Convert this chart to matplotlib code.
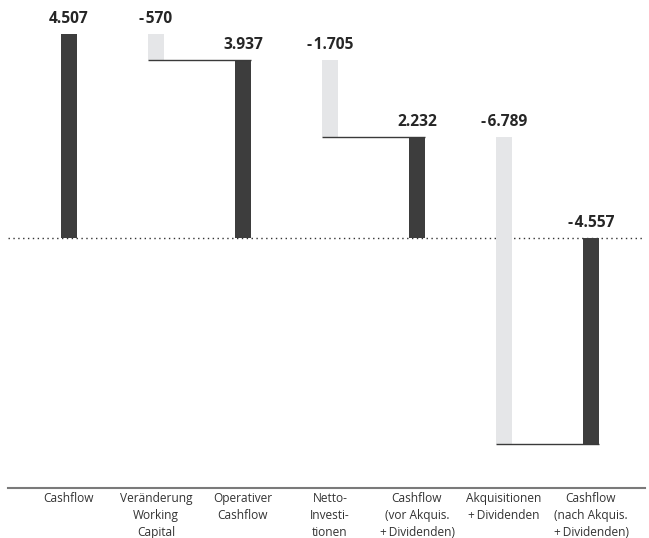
import numpy as np
import matplotlib.pyplot as plt

plt.rcParams['font.family'] = ['Open Sans', 'DejaVu Sans']

categories = ["Cashflow", "Veränderung\nWorking\nCapital", "Operativer\nCashflow",
              "Netto-\nInvesti-\ntionen", "Cashflow\n(vor Akquis.\n+\u2009Dividenden)",
              "Akquisitionen\n+\u2009Dividenden", "Cashflow\n(nach Akquis.\n+\u2009Dividenden)"]
values = [4507, -570, 3937, -1705, 2232, -6789, -4557]
is_total = [True, False, True, False, True, False, True]
value_labels = ["4.507", "-\u200a570", "3.937", "-\u200a1.705", "2.232", "-\u200a6.789", "-\u200a4.557"]

dark = "#3d3d3d"
light = "#e5e6e8"

fig = plt.figure(figsize=(6.49, 5.38), dpi=100)
ax = fig.add_axes([8 / 649, 50 / 538, 637 / 649, 478 / 538])

scale = 204 / 4507  # px per unit
ax.set_xlim((8 - 69) / 87, (645 - 69) / 87)
ax.set_ylim(-(488 - 238) / scale, (238 - 10) / scale)

w = 0.184
x = np.arange(len(values))
level = 0
for i, v in enumerate(values):
    if is_total[i]:
        ax.bar(x[i], v, width=w, color=dark, zorder=3)
        level = v
        label_y = max(0, v)
    else:
        new = level + v
        ax.bar(x[i], v, bottom=level, width=w, color=light, zorder=2)
        # connector from left edge of change bar to right edge of next total bar
        ax.plot([x[i] - w / 2, x[i + 1] + w / 2], [new, new], color="#3a3a3a",
                lw=1.0, zorder=4, solid_capstyle="butt")
        label_y = max(level, new)
        level = new
    ax.annotate(value_labels[i], (x[i], label_y), xytext=(0, 5), textcoords="offset points",
                ha="center", va="bottom", fontsize=11.2, fontweight="bold", color="#262626")

ax.axhline(0, color="#333333", lw=1.0, ls=(0, (1, 2.5)), zorder=1)

for s in ["top", "right", "left"]:
    ax.spines[s].set_visible(False)
ax.spines["bottom"].set_color("#7a7a7a")
ax.spines["bottom"].set_linewidth(1.5)
ax.set_yticks([])
ax.set_xticks(x)
ax.set_xticklabels(categories, fontsize=8.6, linespacing=1.38, color="#333333")
ax.tick_params(axis="x", length=0, pad=3)

plt.savefig("out.png", dpi=100)
